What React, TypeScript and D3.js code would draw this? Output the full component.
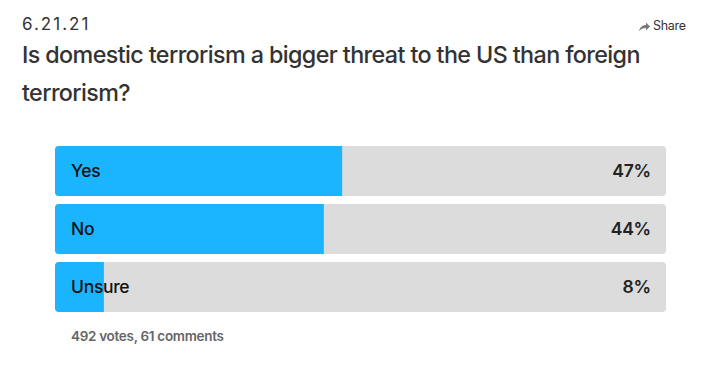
import { useEffect, useRef } from "react";
import * as d3 from "d3";

const dateLabel = "6.21.21";
const titleLines = [
  "Is domestic terrorism a bigger threat to the US than foreign",
  "terrorism?",
];
const answers = ["Yes", "No", "Unsure"];
const percents = [47, 44, 8];
const footer = "492 votes, 61 comments";

const W = 723;
const H = 365;

export default function App() {
  const svgRef = useRef<SVGSVGElement>(null);

  useEffect(() => {
    if (!svgRef.current) return;
    const svg = d3.select(svgRef.current);
    svg.selectAll("*").remove();

    const font = "Inter, 'Liberation Sans', Arial, sans-serif";

    // header
    svg
      .append("text")
      .attr("x", 22)
      .attr("y", 30)
      .style("font-family", font)
      .style("font-size", "17px")
      .style("letter-spacing", "2px")
      .style("fill", "#333")
      .text(dateLabel);

    const share = svg.append("g").attr("transform", "translate(639,26)");
    share
      .append("path")
      .attr("d", "M0,5 C1,1 4,-1 7,-1 L7,-3.5 L11,0.5 L7,4.5 L7,2 C4,2 2,3 0,5 Z")
      .attr("fill", "#777");
    share
      .append("text")
      .attr("x", 14)
      .attr("y", 4)
      .style("font-family", font)
      .style("font-size", "12.5px")
      .style("letter-spacing", "-0.3px")
      .style("fill", "#333")
      .text("Share");

    svg
      .selectAll("text.title")
      .data(titleLines)
      .join("text")
      .attr("class", "title")
      .attr("x", 22)
      .attr("y", (_, i) => 63 + i * 38)
      .style("font-family", font)
      .style("font-size", "23.3px")
      .style("font-weight", "500")
      .style("letter-spacing", "-0.6px")
      .style("fill", "#333")
      .text((d) => d);

    // bars
    const x = d3.scaleLinear().domain([0, 100]).range([55, 666]);
    const y = d3.scaleBand().domain(answers).range([146, 312]).paddingInner(0.14);

    const rows = svg
      .selectAll("g.row")
      .data(answers)
      .join("g")
      .attr("class", "row");

    const r = 4;
    rows
      .append("rect")
      .attr("x", x(0))
      .attr("y", (d) => y(d)!)
      .attr("width", x(100) - x(0))
      .attr("height", y.bandwidth())
      .attr("rx", r)
      .attr("fill", "#dcdcdc");

    // blue fill, rounded on the left only
    rows
      .append("path")
      .attr("d", (d, i) => {
        const x0 = x(0);
        const x1 = x(percents[i]);
        const y0 = y(d)!;
        const h = y.bandwidth();
        return `M${x0 + r},${y0} L${x1},${y0} L${x1},${y0 + h} L${x0 + r},${y0 + h} Q${x0},${y0 + h} ${x0},${y0 + h - r} L${x0},${y0 + r} Q${x0},${y0} ${x0 + r},${y0} Z`;
      })
      .attr("fill", "#1ab4ff");

    rows
      .append("text")
      .attr("x", 71)
      .attr("y", (d) => y(d)! + y.bandwidth() / 2 + 6)
      .style("font-family", font)
      .style("font-size", "17.5px")
      .style("font-weight", "500")
      .style("letter-spacing", "-0.3px")
      .style("fill", "#111")
      .text((d) => d);

    rows
      .append("text")
      .attr("x", 651)
      .attr("y", (d) => y(d)! + y.bandwidth() / 2 + 6)
      .attr("text-anchor", "end")
      .style("font-family", font)
      .style("font-size", "17.5px")
      .style("font-weight", "600")
      .style("letter-spacing", "-0.2px")
      .style("fill", "#222")
      .text((_, i) => `${percents[i]}%`);

    svg
      .append("text")
      .attr("x", 71)
      .attr("y", 341)
      .style("font-family", font)
      .style("font-size", "13.5px")
      .style("font-weight", "600")
      .style("letter-spacing", "-0.3px")
      .style("fill", "#666")
      .text(footer);
  }, []);

  return (
    <svg
      ref={svgRef}
      width={W}
      height={H}
      style={{ position: "absolute", left: 0, top: 0, background: "#fff" }}
    />
  );
}
